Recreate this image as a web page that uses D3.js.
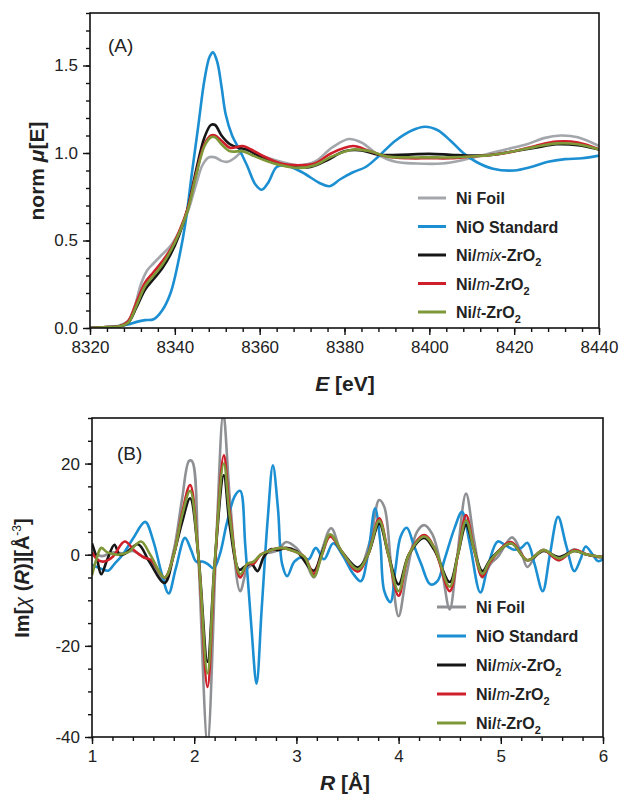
<!DOCTYPE html>
<html lang="en">
<head>
<meta charset="UTF-8">
<title>Ni K-edge XANES / EXAFS</title>
<script src="https://d3js.org/d3.v7.min.js"></script>
<style>
  body { margin: 0; background: #fff; }
  svg text { font-family: "Liberation Sans", Arial, sans-serif; }
</style>
</head>
<body>
<svg id="chart" width="620" height="798"></svg>
<script>
// ---- data: panel A (normalized XANES), [E (eV), norm mu] ----
const xanesFoil = [[8320,0],[8324,0.005],[8327,0.015],[8329,0.04],[8330.5,0.12],[8332,0.25],[8333.5,0.33],[8335,0.37],[8337,0.42],[8339,0.47],[8341,0.55],[8343,0.66],[8345,0.82],[8346.5,0.93],[8348,0.975],[8349.5,0.975],[8351,0.955],[8352.5,0.95],[8354,0.97],[8356,1.01],[8358,1.01],[8361,0.98],[8365,0.95],[8369,0.93],[8373,0.95],[8377,1.03],[8381,1.08],[8384,1.06],[8388,0.99],[8392,0.95],[8397,0.94],[8403,0.94],[8408,0.96],[8413,0.99],[8418,1.02],[8423,1.05],[8427,1.085],[8431,1.1],[8435,1.09],[8440,1.04]];
const xanesNiO = [[8320,0],[8325,0.005],[8329,0.02],[8331,0.035],[8333,0.045],[8335,0.05],[8337,0.1],[8339,0.2],[8341,0.4],[8342.5,0.6],[8344,0.88],[8345.5,1.15],[8347,1.42],[8348.2,1.55],[8349,1.575],[8350,1.52],[8351,1.38],[8352,1.22],[8353.5,1.1],[8355,1.03],[8357,0.93],[8359,0.82],[8360.5,0.79],[8362,0.83],[8364,0.92],[8366,0.93],[8370,0.89],[8374,0.83],[8376.5,0.81],[8379,0.85],[8382,0.89],[8385,0.92],[8388,0.98],[8392,1.07],[8396,1.13],[8399,1.15],[8402,1.13],[8405,1.07],[8408,1.0],[8411,0.95],[8415,0.91],[8420,0.9],[8424,0.92],[8428,0.95],[8432,0.965],[8436,0.97],[8440,0.985]];
const xanesMix = [[8320,0],[8324,0.005],[8327,0.01],[8329,0.03],[8331,0.12],[8333,0.22],[8335,0.28],[8337,0.34],[8339,0.42],[8341,0.53],[8343,0.68],[8345,0.9],[8347,1.09],[8348.5,1.16],[8349.5,1.16],[8351,1.1],[8353,1.05],[8355,1.03],[8357,1.02],[8360,0.98],[8364,0.94],[8368,0.92],[8372,0.92],[8376,0.96],[8380,1.01],[8384,1.015],[8388,0.99],[8393,0.99],[8400,0.995],[8405,0.99],[8410,0.985],[8415,0.99],[8420,1.01],[8425,1.03],[8430,1.05],[8435,1.045],[8440,1.02]];
const xanesM = [[8320,0],[8324,0.005],[8327,0.01],[8329,0.04],[8331,0.15],[8333,0.26],[8335,0.32],[8337,0.38],[8339,0.45],[8341,0.55],[8343,0.68],[8345,0.88],[8347,1.05],[8348.5,1.1],[8349.5,1.1],[8351,1.07],[8353,1.03],[8356,1.04],[8358,1.02],[8361,0.98],[8365,0.94],[8369,0.93],[8373,0.94],[8377,1.0],[8382,1.04],[8386,1.01],[8390,0.98],[8395,0.97],[8400,0.97],[8405,0.97],[8410,0.98],[8415,0.99],[8420,1.01],[8425,1.04],[8430,1.065],[8435,1.06],[8440,1.02]];
const xanesT = [[8320,0],[8324,0.005],[8327,0.01],[8329,0.03],[8331,0.13],[8333,0.24],[8335,0.3],[8337,0.36],[8339,0.44],[8341,0.54],[8343,0.67],[8345,0.87],[8347,1.04],[8348.5,1.09],[8349.5,1.09],[8351,1.05],[8353,1.01],[8356,1.01],[8358,0.99],[8361,0.96],[8365,0.93],[8369,0.915],[8373,0.93],[8377,0.98],[8382,1.02],[8386,1.01],[8390,0.98],[8395,0.975],[8400,0.975],[8405,0.975],[8410,0.98],[8415,0.99],[8420,1.01],[8425,1.035],[8430,1.055],[8435,1.05],[8440,1.02]];

// ---- data: panel B (Im part of FT), [R (A), Im chi(R)] ----
const ftFoil = [[1.0,0.5],[1.1,-0.3],[1.2,0.5],[1.3,0.3],[1.4,0.8],[1.5,-0.5],[1.58,-1.5],[1.71,-5.5],[1.8,1],[1.88,12],[1.95,20.6],[1.98,20.5],[2.04,0],[2.13,-41],[2.22,5],[2.285,31],[2.35,12],[2.45,-8],[2.52,-3],[2.58,-2],[2.65,0],[2.75,0.5],[2.82,1],[2.9,2.8],[3.0,1.5],[3.08,-1],[3.17,-5],[3.25,1],[3.34,5.8],[3.45,0],[3.6,-3.5],[3.72,3],[3.81,12],[3.86,10.5],[3.93,-3],[4.0,-13.5],[4.08,-4],[4.18,5],[4.25,6.5],[4.33,4.5],[4.42,-3],[4.5,-12],[4.57,-1],[4.66,13.4],[4.74,3],[4.82,-5],[4.9,-2],[4.97,-0.5],[5.11,3.8],[5.2,0.5],[5.26,-2.7],[5.35,0],[5.42,1.1],[5.5,-0.3],[5.57,-1.2],[5.65,0.3],[5.72,1.2],[5.8,0.3],[5.9,-0.3],[6.0,-0.8]];
const ftNiO = [[1.0,-2.2],[1.08,-3],[1.16,-3.5],[1.22,-2],[1.3,0],[1.4,3.5],[1.52,7.2],[1.6,3],[1.68,-4],[1.75,-8.5],[1.82,-3],[1.91,3.7],[1.97,1],[2.02,-1.5],[2.08,-1.5],[2.13,-2],[2.19,-3],[2.25,0],[2.32,7],[2.4,13],[2.45,14],[2.5,2],[2.56,-16],[2.61,-28.3],[2.66,-12],[2.72,8],[2.77,19.6],[2.82,10],[2.86,-2],[2.91,-4.7],[2.98,-1.5],[3.06,-0.5],[3.12,-1],[3.19,1.5],[3.27,-1],[3.36,2.5],[3.45,0],[3.55,-4],[3.63,-5.8],[3.7,0],[3.77,10.2],[3.82,3],[3.86,-8],[3.92,-10.4],[3.97,-3],[4.02,4],[4.08,5.9],[4.15,2],[4.22,-2],[4.31,-6.5],[4.38,-5.8],[4.45,-1],[4.55,6],[4.62,9.4],[4.7,2],[4.8,-8.3],[4.88,-2],[4.97,2.9],[5.05,2],[5.13,1.1],[5.2,1.5],[5.26,2.6],[5.33,-2],[5.41,-8],[5.48,0],[5.56,8.3],[5.64,2],[5.72,-3.6],[5.78,-1],[5.83,1.8],[5.9,0],[5.95,-1.4],[6.0,-1]];
const ftMix = [[1.0,2.5],[1.05,-1],[1.09,-4.3],[1.15,-1],[1.22,2.2],[1.27,0],[1.32,0.2],[1.45,2.3],[1.56,-1.5],[1.71,-6.2],[1.8,0],[1.88,7],[1.96,12.4],[2.04,0],[2.13,-23.5],[2.2,-2],[2.29,17.4],[2.35,6],[2.44,-3.3],[2.5,-2.5],[2.56,-2],[2.62,-3.6],[2.68,-0.5],[2.75,1.2],[2.82,1],[2.9,1.5],[3.0,0.8],[3.17,-3.5],[3.25,0.5],[3.33,4.2],[3.45,0.5],[3.6,-2.8],[3.7,0],[3.81,6.8],[3.9,0],[4.0,-6.5],[4.1,0],[4.25,3.7],[4.35,1],[4.5,-6],[4.58,0],[4.66,6.5],[4.74,1],[4.82,-3.6],[4.9,-1],[5.1,2.5],[5.26,-1.2],[5.42,0.8],[5.57,-0.5],[5.72,0.8],[5.85,0],[6.0,-0.5]];
const ftM = [[1.0,0.5],[1.06,-1.2],[1.12,-1.5],[1.2,-0.5],[1.32,2.9],[1.42,0.8],[1.5,-0.5],[1.58,-1.2],[1.71,-5],[1.8,0],[1.88,9],[1.96,15.3],[2.04,0],[2.13,-29],[2.2,-3],[2.29,21.8],[2.35,9],[2.45,-5],[2.52,-2],[2.58,-2],[2.65,0],[2.75,1],[2.85,1.5],[2.95,1],[3.08,-0.5],[3.17,-4.2],[3.25,0],[3.33,4],[3.45,0.5],[3.6,-3.7],[3.7,0],[3.81,8],[3.9,0],[4.0,-9],[4.1,0],[4.25,4.3],[4.35,1.5],[4.5,-8],[4.58,0],[4.66,8.7],[4.74,1],[4.82,-4.8],[4.9,-1.5],[5.1,2.8],[5.26,-1.2],[5.42,1],[5.57,-1.2],[5.72,1],[5.85,0],[6.0,-0.5]];
const ftT = [[1.0,-4.5],[1.05,-0.5],[1.09,1.5],[1.15,0.5],[1.25,0],[1.35,0.5],[1.48,2.9],[1.57,0],[1.71,-5],[1.8,0],[1.88,8.5],[1.96,14],[2.04,0],[2.13,-26],[2.2,-2],[2.29,20],[2.35,8],[2.45,-4.3],[2.52,-2],[2.58,-1.5],[2.65,0],[2.75,1],[2.85,1.5],[2.95,1],[3.08,-0.5],[3.17,-4.8],[3.25,0],[3.33,4.5],[3.45,0.5],[3.6,-3.2],[3.7,0],[3.81,7.5],[3.9,0],[4.0,-8],[4.1,0],[4.25,4],[4.35,1.5],[4.5,-7],[4.58,0],[4.66,7.5],[4.74,1],[4.82,-4.2],[4.9,-1.2],[5.1,2.5],[5.26,-1.2],[5.42,1],[5.57,-0.8],[5.72,0.8],[5.85,0],[6.0,-0.5]];

// legend entries (name parts: [text, italic, subscript])
const legendNames = [
  [["Ni Foil"]],
  [["NiO Standard"]],
  [["Ni/"], ["mix", "i"], ["-ZrO"], ["2", "s"]],
  [["Ni/"], ["m", "i"], ["-ZrO"], ["2", "s"]],
  [["Ni/"], ["t", "i"], ["-ZrO"], ["2", "s"]]
];

const eTicks = [8320, 8340, 8360, 8380, 8400, 8420, 8440];
const muTicks = [0, 0.5, 1.0, 1.5];
const rTicks = [1, 2, 3, 4, 5, 6];
const imTicks = [-40, -20, 0, 20];

const svg = d3.select("#chart");
// plain hyphen for negatives, as in the original figure
const hy = f => (d => f(d).replace("\u2212", "-"));

function drawPanel(opt) {
  const g = svg.append("g");
  const x = d3.scaleLinear().domain(opt.xDomain).range([opt.left, opt.right]);
  const y = d3.scaleLinear().domain(opt.yDomain).range([opt.bottom, opt.top]);

  // minor ticks
  g.append("g").attr("transform", `translate(0,${opt.bottom})`)
    .call(d3.axisBottom(x).tickValues(d3.range(opt.xDomain[0], opt.xDomain[1] + 1e-9, opt.xMinor)).tickSize(4).tickFormat(""))
    .call(a => a.select(".domain").remove());
  g.append("g").attr("transform", `translate(${opt.left},0)`)
    .call(d3.axisLeft(y).tickValues(d3.range(opt.yDomain[0], opt.yDomain[1] + 1e-9, opt.yMinor)).tickSize(4).tickFormat(""))
    .call(a => a.select(".domain").remove());

  // major ticks + labels
  const xa = g.append("g").attr("transform", `translate(0,${opt.bottom})`)
    .call(d3.axisBottom(x).tickValues(opt.xTicks).tickSize(7).tickPadding(6).tickFormat(hy(opt.xFmt)));
  const ya = g.append("g").attr("transform", `translate(${opt.left},0)`)
    .call(d3.axisLeft(y).tickValues(opt.yTicks).tickSize(7).tickPadding(5).tickFormat(hy(opt.yFmt)));
  [xa, ya].forEach(a => {
    a.select(".domain").remove();
    a.selectAll("text").style("font-size", "17px").attr("fill", "#222");
  });
  g.selectAll(".tick line").attr("stroke", "#111").attr("stroke-width", 1.4);

  const clipId = opt.id + "clip";
  svg.append("clipPath").attr("id", clipId).append("rect")
    .attr("x", opt.left).attr("y", opt.top)
    .attr("width", opt.right - opt.left).attr("height", opt.bottom - opt.top);

  const line = d3.line().x(d => x(d[0])).y(d => y(d[1])).curve(d3.curveCatmullRom.alpha(0.5));
  const lines = g.append("g").attr("clip-path", `url(#${clipId})`);
  opt.series.forEach(s => {
    lines.append("path").datum(s.data)
      .attr("d", line).attr("fill", "none")
      .attr("stroke", s.color).attr("stroke-width", 2.6)
      .attr("stroke-linejoin", "round");
  });

  // frame
  g.append("rect").attr("x", opt.left).attr("y", opt.top)
    .attr("width", opt.right - opt.left).attr("height", opt.bottom - opt.top)
    .attr("fill", "none").attr("stroke", "#111").attr("stroke-width", 1.6);

  g.append("text").attr("x", opt.tagX).attr("y", opt.tagY)
    .style("font-size", "19px").attr("fill", "#222").text(opt.tag);

  // legend
  opt.series.forEach((s, i) => {
    const ly = opt.legY + i * opt.legStep;
    g.append("line").attr("x1", opt.legX).attr("x2", opt.legX + opt.legLen)
      .attr("y1", ly).attr("y2", ly).attr("stroke", s.color).attr("stroke-width", 3);
    const t = g.append("text").attr("x", opt.legX + opt.legLen + 10).attr("y", ly + 6)
      .style("font-size", "16px").style("font-weight", "bold").attr("fill", "#222");
    legendNames[i].forEach(p => {
      const ts = t.append("tspan").text(p[0]);
      if (p[1] === "i") ts.style("font-style", "italic").style("font-weight", "normal");
      if (p[1] === "s") ts.attr("dy", 5).style("font-size", "11px");
    });
  });
  return g;
}

const colors = ["#a3a6aa", "#1b8fd2", "#161616", "#cf1f2a", "#7e9838"];

drawPanel({
  id: "a", left: 90, right: 599, top: 13, bottom: 328,
  xDomain: [8320, 8440], yDomain: [0, 1.8],
  xMinor: 4, yMinor: 0.1, xTicks: eTicks, yTicks: muTicks,
  xFmt: d3.format("d"), yFmt: d3.format(".1f"),
  tag: "(A)", tagX: 108, tagY: 52,
  legX: 418, legLen: 28, legY: 198, legStep: 28.5,
  series: [xanesFoil, xanesNiO, xanesMix, xanesM, xanesT].map((d, i) => ({data: d, color: colors[i]}))
});

const bColors = colors.slice(); bColors[0] = "#8e9094";
drawPanel({
  id: "b", left: 92, right: 603, top: 418, bottom: 737,
  xDomain: [1, 6], yDomain: [-40, 30],
  xMinor: 0.2, yMinor: 5, xTicks: rTicks, yTicks: imTicks,
  xFmt: d3.format("d"), yFmt: d3.format("d"),
  tag: "(B)", tagX: 117, tagY: 460,
  legX: 437, legLen: 29, legY: 607, legStep: 29,
  series: [ftFoil, ftNiO, ftMix, ftM, ftT].map((d, i) => ({data: d, color: bColors[i]}))
});

// axis titles
const tA = svg.append("text").attr("transform", "translate(44,171) rotate(-90)")
  .attr("text-anchor", "middle").style("font-size", "21px").style("font-weight", "bold").attr("fill", "#222");
tA.append("tspan").text("norm ");
tA.append("tspan").text("μ").style("font-style", "italic");
tA.append("tspan").text("[E]");

const tE = svg.append("text").attr("x", 345).attr("y", 391)
  .attr("text-anchor", "middle").style("font-size", "21px").style("font-weight", "bold").attr("fill", "#222");
tE.append("tspan").text("E").style("font-style", "italic");
tE.append("tspan").text(" [eV]");

const tB = svg.append("text").attr("transform", "translate(29,578) rotate(-90)")
  .attr("text-anchor", "middle").style("font-size", "20px").style("font-weight", "bold").attr("fill", "#222");
tB.append("tspan").text("Im[");
tB.append("tspan").text("χ").style("font-style", "italic").style("font-weight", "normal");
tB.append("tspan").text(" (");
tB.append("tspan").text("R").style("font-style", "italic");
tB.append("tspan").text(")][Å");
tB.append("tspan").text("-3").attr("dy", -8).style("font-size", "12px").style("font-weight", "normal");
tB.append("tspan").text("]").attr("dy", 8);

const tR = svg.append("text").attr("x", 345).attr("y", 790)
  .attr("text-anchor", "middle").style("font-size", "21px").style("font-weight", "bold").attr("fill", "#222");
tR.append("tspan").text("R").style("font-style", "italic");
tR.append("tspan").text(" [Å]");
</script>
</body>
</html>
